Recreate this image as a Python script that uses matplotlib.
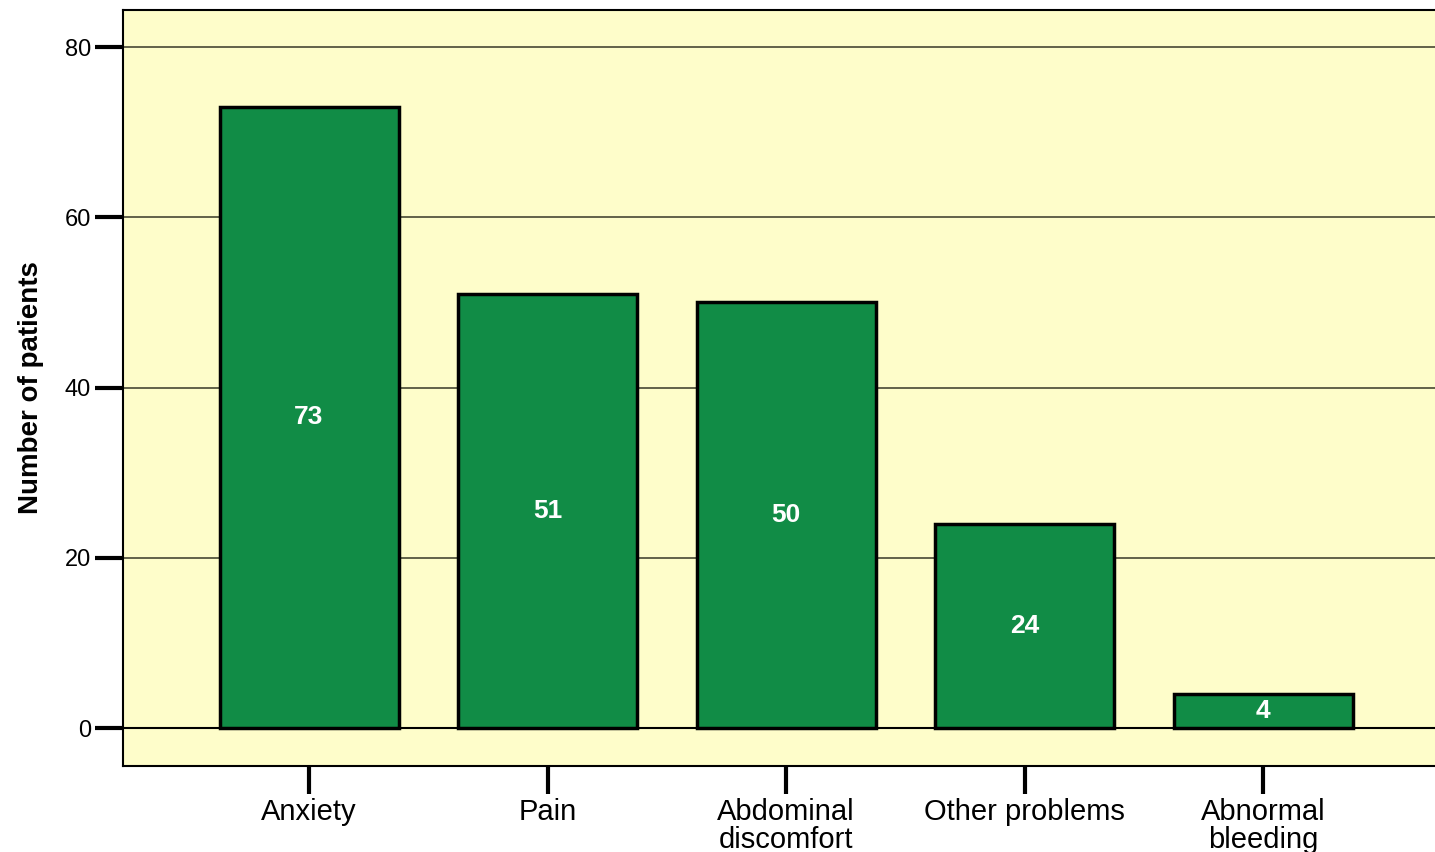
import matplotlib.pyplot as plt

# datos
categorias = ['Anxiety', 'Pain', 'Abdominal\ndiscomfort', 'Other problems', 'Abnormal\nbleeding']
pacientes = [73, 51, 50, 24, 4]
ticks_y = [0, 20, 40, 60, 80]

plt.rcParams['font.family'] = ['Liberation Sans', 'DejaVu Sans']

fig = plt.figure(figsize=(14.35, 8.52), dpi=100)
ax = fig.add_axes([0.0857, 0.1009, 0.9143, 0.8874])
ax.set_facecolor('#fefdca')

x = list(range(len(categorias)))

# lineas de la grilla
for v in ticks_y:
    if v == 0:
        ax.axhline(v, color='black', lw=1.5, zorder=1)
    else:
        ax.axhline(v, color='#55553f', lw=1.3, zorder=1)

barras = ax.bar(x, pacientes, width=0.75, color='#118c46', edgecolor='black', linewidth=2.5, zorder=2)

for xi, val in zip(x, pacientes):
    ax.text(xi, val / 2, str(val), ha='center', va='center', color='white',
            fontsize=19, fontweight='bold', zorder=3)

ax.set_xlim(-0.78, 4.72)
ax.set_ylim(-4.46, 84.35)
ax.set_yticks(ticks_y)
ax.set_xticks(x)
ax.set_xticklabels(categorias, fontsize=21, linespacing=1.0)
ax.tick_params(axis='y', length=20, width=3, pad=3, labelsize=17)
ax.tick_params(axis='x', length=20, width=3, pad=3)

for lado in ['left', 'bottom', 'top']:
    ax.spines[lado].set_linewidth(1.5)
ax.spines['right'].set_visible(False)

ax.set_ylabel('Number of patients', fontsize=20, fontweight='bold')
ax.yaxis.set_label_coords(-0.06, 0.5)

fig.savefig('out.png', dpi=100)
